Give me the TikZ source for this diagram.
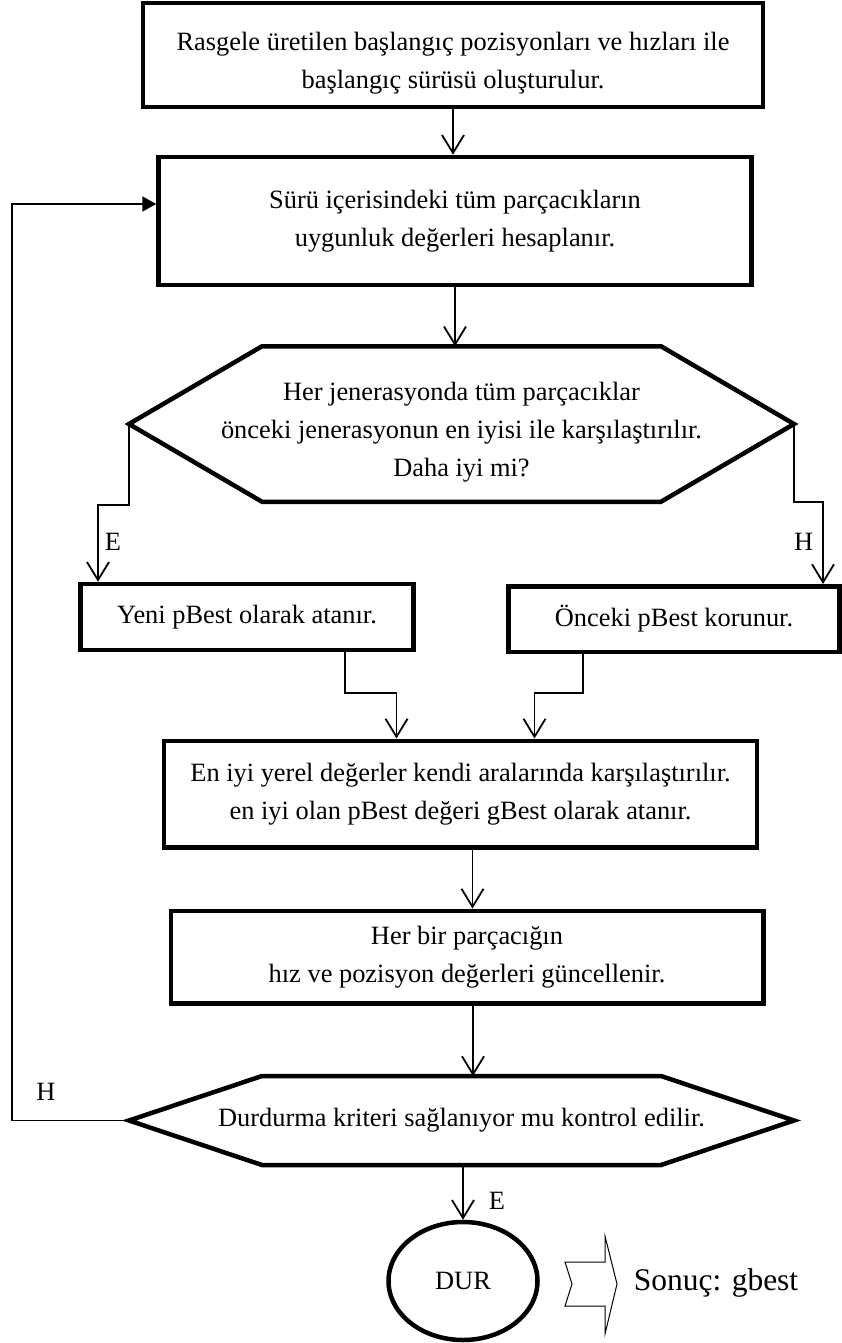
\documentclass[tikz,border=0pt]{standalone}
\usepackage{fontspec}
\setmainfont{Liberation Serif}
\usetikzlibrary{arrows.meta,shapes.geometric}

\tikzset{
	box/.style={draw, line width=4.5pt, align=center, inner sep=0pt},
	hexa/.style={line width=4.5pt},
	hexnode/.style={align=center, inner sep=0pt, outer sep=0pt, minimum width=665pt},
	conn/.style={line width=1.8pt, -{Straight Barb[length=18pt,width=22pt]}},
	back/.style={line width=1.8pt, -{Triangle[length=14pt,width=15pt]}},
	lbl/.style={inner sep=1pt}
}

\begin{document}
\begin{tikzpicture}[x=1pt, y=-1pt, font=\fontsize{26.4}{38}\selectfont]
		\useasboundingbox (0,0) rectangle (842,1343);
		\node[box, minimum width=620pt, minimum height=104pt] (top) at (453,55) {\rule{0pt}{34pt}Rasgele üretilen başlangıç pozisyonları ve hızları ile\\başlangıç sürüsü oluşturulur.};
		\node[box, minimum width=593pt, minimum height=128pt] (swarm) at (455,221) {Sürü içerisindeki tüm parçacıkların\\uygunluk değerleri hesaplanır.};
		\node[hexnode, minimum height=155.5pt] (hex1) at (461.5,424) {\rule{0pt}{34pt}Her jenerasyonda tüm parçacıklar\\önceki jenerasyonun en iyisi ile karşılaştırılır.\\Daha iyi mi?};
		\node[box, minimum width=333pt, minimum height=66pt] (yeni) at (247,617) {Yeni pBest olarak atanır.};
		\node[box, minimum width=331pt, minimum height=65.5pt] (once) at (674,619) {Önceki pBest korunur.};
		\node[box, minimum width=593pt, minimum height=106.5pt] (eniyi) at (460.5,794) {En iyi yerel değerler kendi aralarında karşılaştırılır.\\en iyi olan pBest değeri gBest olarak atanır.};
		\node[box, minimum width=592.5pt, minimum height=92.5pt] (hbir) at (467,957) {Her bir parçacığın\\hız ve pozisyon değerleri güncellenir.};
		\node[hexnode, minimum height=89pt] (hex2) at (461.5,1120.5) {Durdurma kriteri sağlanıyor mu kontrol edilir.};
		\node[draw, ellipse, line width=4.5pt, minimum width=149pt, minimum height=118pt, inner sep=0pt] (dur) at (463,1281) {DUR};
		\node[font=\fontsize{31.5}{38}\selectfont] (res) at (716,1283) {Sonuç: gbest};

		\draw[hexa] (hex1.west) -- ([xshift=133pt]hex1.north west) -- ([xshift=-133pt]hex1.north east) -- (hex1.east) -- ([xshift=-133pt]hex1.south east) -- ([xshift=133pt]hex1.south west) -- cycle;
		\draw[hexa] (hex2.west) -- ([xshift=133pt]hex2.north west) -- ([xshift=-133pt]hex2.north east) -- (hex2.east) -- ([xshift=-133pt]hex2.south east) -- ([xshift=133pt]hex2.south west) -- cycle;
		\draw[line width=1pt] (565,1262) -- (605,1262) -- (605,1236) -- (617,1284) -- (605,1334) -- (605,1306) -- (565,1306) -- (572,1284) -- cycle;

		\draw[conn] (top.south) -- (top.south |- swarm.north);
		\draw[conn] (swarm.south) -- (swarm.south |- hex1.north);
		\draw[conn] (hex1.west) -- ++(0,81) -| node[lbl, right=5pt, pos=0.74]{E} ([xshift=-149pt]yeni.north);
		\draw[conn] (hex1.east) -- ++(0,78) -| node[lbl, left=8pt, pos=0.74]{H} ([xshift=149pt]once.north);
		\draw[conn] ([xshift=98pt]yeni.south) -- ++(0,41) -| ([xshift=-64pt]eniyi.north);
		\draw[conn] ([xshift=-91pt]once.south) -- ++(0,39) -| ([xshift=74pt]eniyi.north);
		\draw[conn] ([xshift=12pt]eniyi.south) -- ([xshift=12pt]eniyi.south |- hbir.north);
		\draw[conn] ([xshift=6pt]hbir.south) -- ([xshift=6pt]hbir.south |- hex2.north);
		\draw[conn] (dur.north |- hex2.south) -- node[lbl, right=24pt, pos=0.66]{E} (dur.north);
		\draw[back] (hex2.west) -- node[lbl, above=18pt, pos=0.71]{H} ++(-117,0) |- ([yshift=17pt]swarm.west);
	\end{tikzpicture}
\end{document}
